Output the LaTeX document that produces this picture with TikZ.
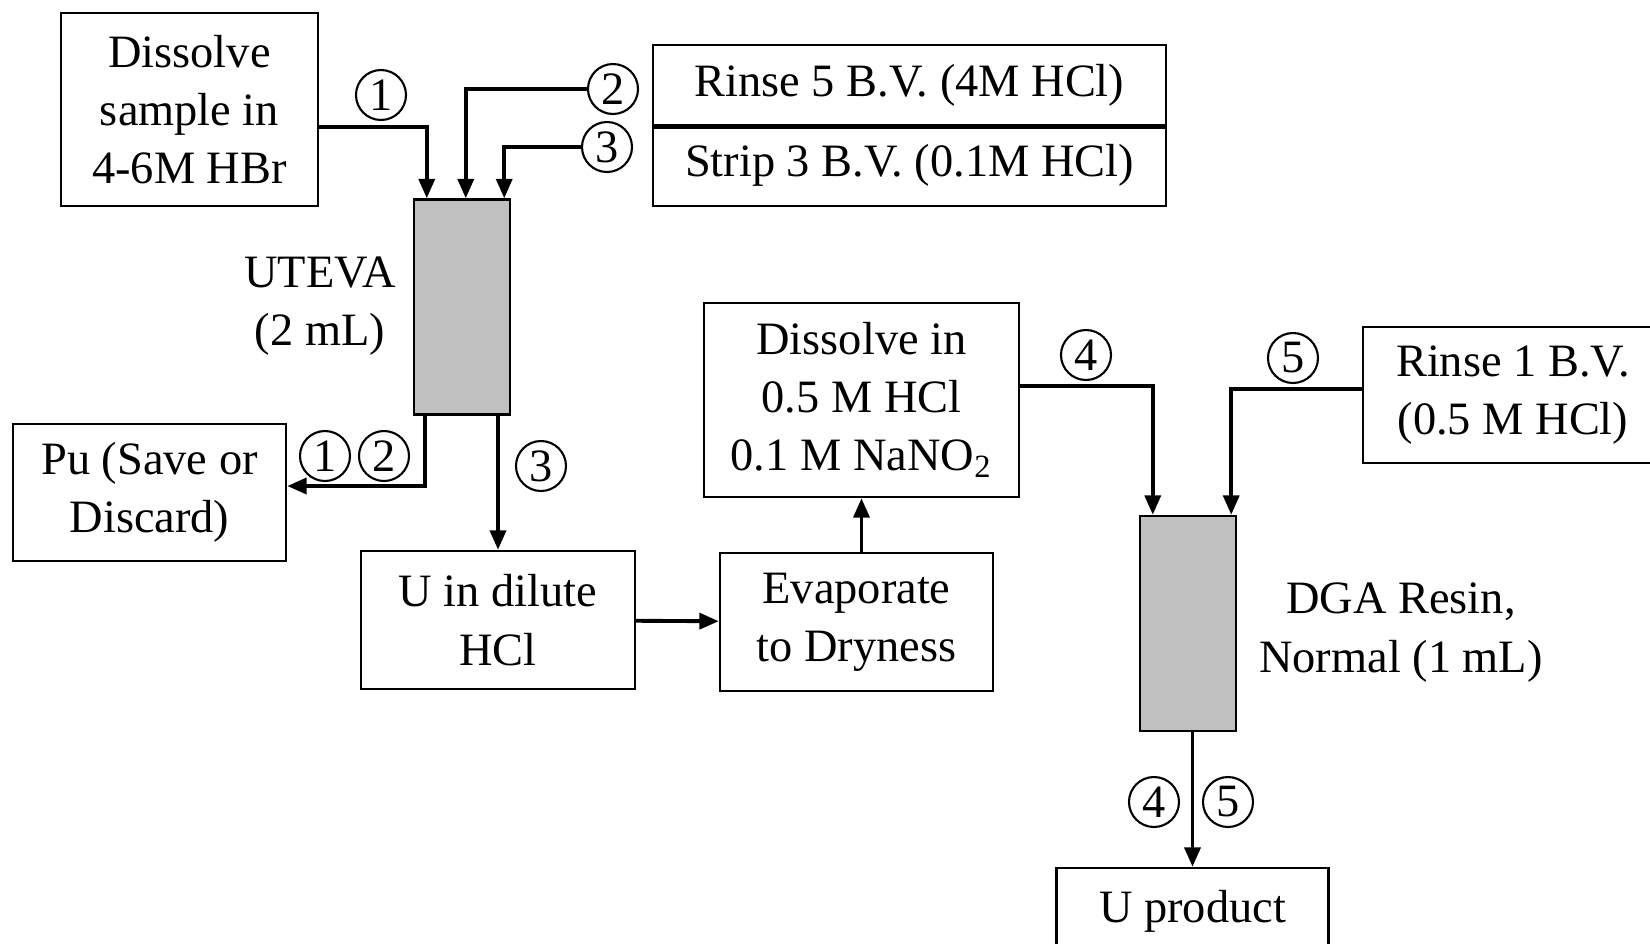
\documentclass[tikz,border=0pt]{standalone}
\usepackage{fontspec}
\setmainfont{Liberation Serif}
\usetikzlibrary{arrows.meta,shapes.geometric}

\definecolor{resin}{RGB}{192,192,192}

\tikzset{
  box/.style={draw, line width=0.7pt, align=center, inner sep=0pt},
  column/.style={draw, line width=0.7pt, fill=resin, minimum width=0.96cm, minimum height=2.15cm},
  num/.style={draw, ellipse, line width=0.6pt, minimum width=0.5cm, minimum height=0.5cm, inner sep=0pt},
  flow/.style={line width=1.1pt, -{Triangle[width=4.5pt,length=5.5pt]}},
}

\begin{document}
\begin{tikzpicture}[font=\fontsize{13.2}{16.6}\selectfont]
    \clip (0, 0) rectangle (16.5, -9.43);
    \useasboundingbox (0, 0) rectangle (16.5, -9.43);

    % first column: UTEVA
    \node[box, minimum width=2.57cm, minimum height=1.93cm] (dis) at (1.895, -1.095)
      {Dissolve\\ sample in\\ 4-6M HBr};
    \node[box, minimum width=5.13cm, minimum height=0.80cm] (rinse) at (9.095, -0.85)
      {Rinse 5 B.V. (4M HCl)};
    \node[box, minimum width=5.13cm, minimum height=0.81cm] (strip) at (9.095, -1.655)
      {Strip 3 B.V. (0.1M HCl)};
    \draw[line width=1.3pt] (rinse.south west) -- (rinse.south east);

    \node[column] (uteva) at (4.62, -3.07) {};
    \node[align=center] (utevalab) at (3.20, -3.06) {UTEVA\\ (2 mL)};

    \node[box, minimum width=2.73cm, minimum height=1.37cm] (pu) at (1.495, -4.925)
      {Pu (Save or\\ Discard)};
    \node[box, minimum width=2.74cm, minimum height=1.38cm] (udil) at (4.98, -6.20)
      {U in dilute\\ HCl};

    \node[num] (c1) at (3.81, -0.95) {1};
    \node[num] (c2) at (6.13, -0.89) {2};
    \node[num] (c3) at (6.07, -1.47) {3};
    \node[num] (c1b) at (3.25, -4.56) {1};
    \node[num] (c2b) at (3.84, -4.56) {2};
    \node[num] (c3b) at (5.41, -4.66) {3};

    \draw[flow] ([yshift=-0.175cm]dis.east) -| ([xshift=0.14cm]uteva.north west);
    \draw[flow] (c2.west) -| ([xshift=0.53cm]uteva.north west);
    \draw[flow] (c3.west) -| ([xshift=-0.07cm]uteva.north east);
    \draw[flow] ([xshift=0.12cm]uteva.south west) |- ([yshift=0.065cm]pu.east);
    \draw[flow] (uteva.south -| udil.north) -- (udil.north);

    % second column: DGA
    \node[box, minimum width=2.73cm, minimum height=1.38cm] (evap) at (8.565, -6.22)
      {Evaporate\\ to Dryness};
    \node[box, minimum width=3.15cm, minimum height=1.94cm] (din) at (8.615, -4.00)
      {Dissolve in\\ 0.5 M HCl\\ 0.1 M NaNO\textsubscript{2}};
    \node[box, minimum width=3.0cm, minimum height=1.36cm] (rin1) at (15.13, -3.95)
      {Rinse 1 B.V.\\ (0.5 M HCl)};

    \node[column] (dga) at (11.88, -6.235) {};
    \node[align=center] (dgalab) at (14.01, -6.325) {DGA Resin,\\ Normal (1 mL)};

    \node[box, minimum width=2.72cm, minimum height=0.86cm] (uprod) at (11.925, -9.11)
      {U product};

    \node[num] (c4) at (10.86, -3.55) {4};
    \node[num] (c5) at (12.93, -3.58) {5};
    \node[num] (c4b) at (11.54, -8.02) {4};
    \node[num] (c5b) at (12.28, -8.02) {5};

    \draw[flow] (udil) -- (evap);
    \draw[flow] (evap.north -| din.south) -- (din.south);
    \draw[flow] ([yshift=0.14cm]din.east) -| ([xshift=0.14cm]dga.north west);
    \draw[flow] ([yshift=0.06cm]rin1.west) -| ([xshift=-0.06cm]dga.north east);
    \draw[flow] (dga.south -| uprod.north) -- (uprod.north);
  \end{tikzpicture}
\end{document}
